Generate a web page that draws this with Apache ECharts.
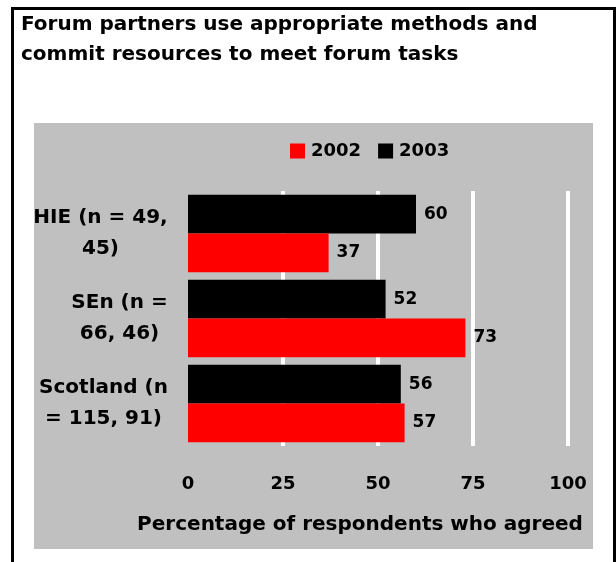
<!DOCTYPE html>
<html>
<head>
<meta charset="utf-8">
<script src="https://cdn.jsdelivr.net/npm/echarts@6/dist/echarts.min.js"></script>
<style>
  html, body { margin: 0; padding: 0; background: #fff; }
  #chart { width: 616px; height: 562px; }
</style>
</head>
<body>
<div id="chart"></div>
<script>
// data
var categories = ['HIE (n = 49,\n45)', 'SEn (n =\n66, 46)', 'Scotland (n\n= 115, 91)'];
var years = ['2002', '2003'];
var values2002 = [37, 73, 57];
var values2003 = [60, 52, 56];
var xTicks = [0, 25, 50, 75, 100];

var FONT = 'DejaVu Sans';

// category labels: lines centred on the widest line, block right aligned
var ctx = document.createElement('canvas').getContext('2d');
ctx.font = 'bold 20px "' + FONT + '"';
var rich = {};
categories.forEach(function (c, i) {
  var w = 0;
  c.split('\n').forEach(function (l) { w = Math.max(w, ctx.measureText(l).width); });
  rich['c' + i] = {
    width: Math.ceil(w), align: 'center', lineHeight: 31,
    fontSize: 20, fontWeight: 'bold', fontFamily: FONT, color: '#000'
  };
});

var chart = echarts.init(document.getElementById('chart'));
var option = {
  backgroundColor: '#fff',
  animation: false,
  title: {
    text: 'Forum partners use appropriate methods and\ncommit resources to meet forum tasks',
    left: 21,
    top: 10,
    padding: 0,
    textStyle: { fontSize: 20, fontWeight: 'bold', fontFamily: FONT, color: '#000', lineHeight: 30 }
  },
  graphic: [
    { type: 'rect', z: -10, silent: true,
      shape: { x: 34, y: 123, width: 559, height: 426 },
      style: { fill: '#c0c0c0' } },
    { type: 'rect', z: -9, silent: true,
      shape: { x: 12.5, y: 8.5, width: 602, height: 600 },
      style: { fill: 'none', stroke: '#000', lineWidth: 3 } }
  ],
  legend: {
    data: years,
    left: 290,
    top: 142,
    padding: 0,
    icon: 'rect',
    itemWidth: 15,
    itemHeight: 15,
    itemGap: 17,
    textStyle: { fontSize: 18, fontWeight: 'bold', fontFamily: FONT, color: '#000', padding: [0, 0, 0, 1] }
  },
  grid: { left: 188, right: 48, top: 191, bottom: 116, containLabel: false },
  xAxis: {
    type: 'value',
    min: xTicks[0],
    max: xTicks[xTicks.length - 1],
    interval: xTicks[1] - xTicks[0],
    axisLine: { show: false },
    axisTick: { show: false },
    axisLabel: { margin: 29, fontSize: 18, fontWeight: 'bold', fontFamily: FONT, color: '#000' },
    splitLine: { show: true, showMinLine: false, lineStyle: { color: '#fff', width: 4 } },
    name: 'Percentage of respondents who agreed',
    nameLocation: 'middle',
    nameGap: 69,
    nameTextStyle: { fontSize: 20, fontWeight: 'bold', fontFamily: FONT, color: '#000', padding: [0, 36, 0, 0] }
  },
  yAxis: {
    type: 'category',
    inverse: true,
    data: categories,
    axisLine: { show: false },
    axisTick: { show: false },
    splitLine: { show: false },
    axisLabel: {
      margin: 20,
      formatter: function (v, i) {
        return v.split('\n').map(function (l) { return '{c' + i + '|' + l + '}'; }).join('\n');
      },
      rich: rich
    }
  },
  series: [
    {
      name: '2003', type: 'bar', data: values2003,
      itemStyle: { color: '#000' },
      barGap: '0%', barCategoryGap: '9%',
      label: { show: true, position: 'right', distance: 8, fontSize: 17, fontWeight: 'bold', fontFamily: FONT, color: '#000' }
    },
    {
      name: '2002', type: 'bar', data: values2002,
      itemStyle: { color: '#ff0000' },
      barGap: '0%', barCategoryGap: '9%',
      label: { show: true, position: 'right', distance: 8, fontSize: 17, fontWeight: 'bold', fontFamily: FONT, color: '#000' }
    }
  ]
};
chart.setOption(option);
</script>
</body>
</html>
